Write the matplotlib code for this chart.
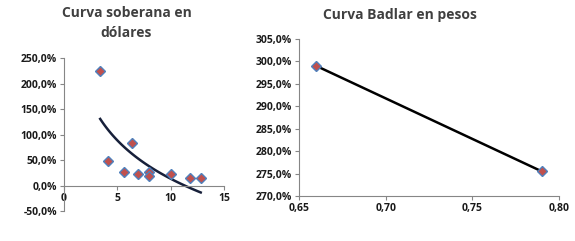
import matplotlib
matplotlib.use("Agg")
import matplotlib.pyplot as plt
from matplotlib.ticker import FuncFormatter
import numpy as np

plt.rcParams['font.family'] = ['Open Sans', 'DejaVu Sans']
plt.rcParams['font.weight'] = 'bold'

# Curva soberana en dolares (duration, yield %)
sob_x = [3.4, 4.1, 5.6, 6.4, 6.9, 8.0, 8.0, 10.0, 11.8, 12.8]
sob_y = [225.0, 48.5, 27.0, 84.0, 23.0, 27.0, 19.5, 22.0, 14.0, 14.0]

# Curva Badlar en pesos
bad_x = [0.66, 0.79]
bad_y = [299.0, 275.5]

mk_face = '#C0504D'
mk_edge = '#4F81BD'
txt_col = '#1a1a1a'
title_col = '#404040'
spine_col = '#868686'

pct = FuncFormatter(lambda v, p: ('%.1f%%' % v).replace('.', ','))

fig = plt.figure(figsize=(5.75, 2.41), dpi=100)

# left chart
ax1 = fig.add_axes([0.111, 0.124, 0.279, 0.635])
# log trendline like excel
b, a = np.polyfit(np.log(sob_x), sob_y, 1)
tx = np.linspace(min(sob_x), max(sob_x), 100)
ax1.plot(tx, a + b * np.log(tx), color='#17203A', lw=1.8, zorder=2)
ax1.plot(sob_x, sob_y, ls='none', marker='D', ms=5, mfc=mk_face, mec=mk_edge,
         mew=1.0, zorder=3)
ax1.set_xlim(0, 15)
ax1.set_ylim(-50, 250)
ax1.set_xticks([0, 5, 10, 15])
ax1.set_yticks(np.arange(-50, 251, 50))
ax1.yaxis.set_major_formatter(pct)
ax1.spines['bottom'].set_position(('data', 0))
fig.text(0.22, 0.975, 'Curva soberana en\ndólares', ha='center', va='top',
         fontsize=10, fontweight='bold', color=title_col, linespacing=1.55)

# right chart
ax2 = fig.add_axes([0.520, 0.187, 0.452, 0.651])
c1, c0 = np.polyfit(bad_x, bad_y, 1)
lx = np.array([min(bad_x), max(bad_x)])
ax2.plot(lx, c0 + c1 * lx, color='black', lw=1.8, zorder=2)
ax2.plot(bad_x, bad_y, ls='none', marker='D', ms=5, mfc=mk_face, mec=mk_edge,
         mew=1.0, zorder=3)
ax2.set_xlim(0.65, 0.80)
ax2.set_ylim(270, 305)
ax2.set_xticks([0.65, 0.70, 0.75, 0.80])
ax2.set_yticks(np.arange(270, 306, 5))
ax2.yaxis.set_major_formatter(pct)
ax2.xaxis.set_major_formatter(FuncFormatter(lambda v, p: ('%.2f' % v).replace('.', ',')))
fig.text(0.695, 0.965, 'Curva Badlar en pesos', ha='center', va='top',
         fontsize=10, fontweight='bold', color=title_col)

for ax in (ax1, ax2):
    ax.spines['top'].set_visible(False)
    ax.spines['right'].set_visible(False)
    for s in ('left', 'bottom'):
        ax.spines[s].set_color(spine_col)
        ax.spines[s].set_linewidth(0.8)
    ax.tick_params(direction='out', length=3, width=0.8, color=spine_col,
                   labelsize=7.5, labelcolor=txt_col, pad=2)

fig.savefig('out.png', dpi=100)
